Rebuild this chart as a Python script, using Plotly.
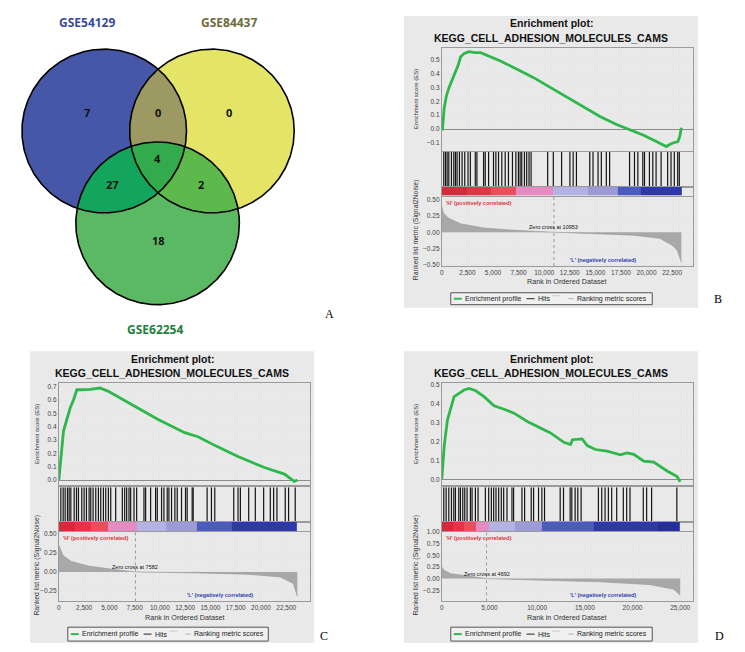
import numpy as np
import plotly.graph_objects as go

W, H = 745, 652
FONT = "Liberation Sans"

# ---------------- Venn data ----------------
venn_names = ["GSE54129", "GSE84437", "GSE62254"]
venn_region_keys = ["A", "AB", "B", "ABC", "AC", "BC", "C"]
venn_region_counts = [7, 0, 0, 4, 27, 2, 18]

# ---------------- GSEA data ----------------
gene_set_name = "KEGG_CELL_ADHESION_MOLECULES_CAMS"

b_es_rank = [0, 65, 230, 450, 710, 1030, 1360, 1600, 1840, 2200, 2650, 3200, 3790, 4760, 5730, 7350,
             8970, 10590, 12200, 13830, 15450, 17070, 18370, 19660, 20960, 21930, 22300, 22580, 23070,
             23250, 23400]
b_es_val = [0.0, 0.0, 0.15, 0.24, 0.30, 0.36, 0.42, 0.46, 0.52, 0.545, 0.557, 0.55, 0.55, 0.52, 0.49,
            0.43, 0.37, 0.30, 0.23, 0.16, 0.09, 0.033, -0.007, -0.043, -0.09, -0.126, -0.11, -0.10,
            -0.09, -0.05, 0.01]
b_hits = [190, 360, 520, 680, 940, 1170, 1330, 1490, 1720, 1980, 2240, 2560, 2790, 3270, 3430, 4080,
          4240, 4570, 5050, 5280, 5540, 5860, 6190, 6510, 6900, 7230, 7480, 7650, 7810, 8070, 8290,
          8520, 8720, 10340, 10890, 11700, 12510, 12830, 13150, 14450, 14770, 15260, 15580, 16070,
          16390, 18340, 18820, 19150, 19630, 19800, 20280, 20610, 20930, 21420, 22060, 22390, 22710,
          23040, 23200]
b_rm_rank = [0, 150, 620, 1840, 4110, 6700, 10953, 15450, 18690, 21290, 22580, 23000, 23400]
b_rm_val = [0.40, 0.30, 0.22, 0.13, 0.066, 0.035, 0.0, -0.02, -0.045, -0.095, -0.21, -0.28, -0.47]
b_band_edges = [0, 2400, 4800, 7200, 10890, 14300, 17220, 19460, 23400]
b_zero_cross = 10953

c_es_rank = [0, 150, 300, 460, 790, 1120, 1450, 1780, 2270, 3090, 4080, 4900, 7200, 9830, 12460,
             13780, 15420, 17720, 20350, 22320, 23300, 23600]
c_es_val = [0.0, 0.12, 0.256, 0.367, 0.454, 0.54, 0.60, 0.677, 0.677, 0.68, 0.69, 0.665, 0.566,
            0.454, 0.355, 0.325, 0.26, 0.176, 0.094, 0.045, -0.01, 0.0]
c_hits = [198, 428, 625, 856, 1020, 1185, 1514, 1744, 1941, 2270, 2501, 2731, 2994, 3159, 3389, 3652,
          3915, 4146, 4409, 4639, 4902, 5133, 5626, 6284, 6514, 6712, 6942, 7107, 7436, 7699, 8423,
          8587, 9081, 9574, 9739, 10166, 10397, 10726, 10890, 11153, 11482, 11713, 12140, 12535,
          12700, 13193, 13292, 14674, 15101, 15430, 17306, 17733, 17964, 18786, 19444, 20267, 20925,
          21254, 21583, 22405, 22734, 23392]
c_rm_rank = [0, 400, 1200, 2900, 5500, 7582, 13680, 18600, 21900, 23200, 23600]
c_rm_val = [0.35, 0.216, 0.138, 0.078, 0.03, 0.0, -0.013, -0.03, -0.065, -0.15, -0.32]
c_band_edges = [0, 1600, 3200, 4800, 7760, 10560, 13690, 17140, 23600]
c_zero_cross = 7582

d_es_rank = [0, 245, 590, 940, 1290, 1810, 2330, 2860, 3560, 4430, 5480, 6530, 7570, 8970, 10360,
             11400, 12800, 13500, 13700, 14720, 15250, 16120, 17340, 18730, 19430, 20130, 21180,
             22230, 23630, 24680, 25000]
d_es_val = [0.0, 0.175, 0.316, 0.377, 0.439, 0.456, 0.474, 0.482, 0.47, 0.439, 0.39, 0.372, 0.351,
            0.307, 0.272, 0.246, 0.196, 0.184, 0.21, 0.214, 0.179, 0.158, 0.149, 0.13, 0.14, 0.132,
            0.096, 0.091, 0.044, 0.014, -0.014]
d_hits = [209, 453, 732, 1011, 1255, 1430, 1778, 1952, 2197, 2406, 2650, 2999, 3173, 3522, 3801, 4568,
          4917, 5195, 5440, 5684, 5963, 6242, 6486, 6835, 7357, 7532, 8404, 8683, 9379, 9624, 10147,
          10496, 10775, 12414, 12763, 13460, 13634, 13983, 14262, 14610, 16424, 16773, 17121, 17470,
          17818, 18341, 19039, 19388, 19736, 21131, 21480, 22003, 24650]
d_rm_rank = [0, 245, 940, 2680, 4692, 9670, 16640, 21880, 24330, 25000]
d_rm_val = [0.25, 0.18, 0.107, 0.057, 0.0, -0.03, -0.07, -0.13, -0.23, -0.36]
d_band_edges = [0, 1170, 2340, 3520, 4920, 7700, 10500, 15900, 22700, 25000]
d_zero_cross = 4692

legend_labels = ["Enrichment profile", "Hits", "Ranking metric scores"]

# ---------------- styles ----------------
RED1, RED2, RED3 = "#D42A3E", "#E23447", "#EC4C5C"
PINK, LAV1, LAV2 = "#E58BC1", "#B3B2E2", "#9C9AD7"
BLUE, DBLUE, DDBLUE = "#4B5BBF", "#2E38A8", "#252E9C"
band_colors_bc = [RED1, RED2, RED3, PINK, LAV1, LAV2, BLUE, DBLUE]
band_colors_d = [RED1, RED2, RED3, PINK, LAV1, LAV2, BLUE, DBLUE, DDBLUE]
GREEN = "#2EB84C"


def X(px):
    return px / W


def Y(py):
    return 1 - py / H


fig = go.Figure()
layout = dict(width=W, height=H, margin=dict(l=0, r=0, t=0, b=0), paper_bgcolor="white",
              plot_bgcolor="white", showlegend=False, font=dict(family=FONT, color="#222"))
shapes = []
annotations = []
n_ax = [0]


def new_axes(xd, yd, xkw, ykw):
    n_ax[0] += 1
    i = n_ax[0]
    s = "" if i == 1 else str(i)
    layout["xaxis" + s] = dict(domain=[X(xd[0]), X(xd[1])], anchor="y" + s, **xkw)
    layout["yaxis" + s] = dict(domain=[Y(yd[1]), Y(yd[0])], anchor="x" + s, **ykw)
    return "x" + s, "y" + s


# ---------------- Venn ----------------
vx, vy = new_axes((0, 340), (0, 320),
                  dict(range=[0, 340], visible=False, fixedrange=True),
                  dict(range=[320, 0], visible=False, fixedrange=True))
circles = {"A": (102.5, 129, 82.5), "B": (210.5, 129, 82.5), "C": (156, 222, 82)}
fills = [(["A"], "#4657A7"), (["B"], "#E4E466"), (["C"], "#5CB963"),
         (["A", "B"], "#9C9A62"), (["A", "C"], "#14A55C"), (["B", "C"], "#5EB94D"),
         (["A", "B", "C"], "#33AB4D")]
t = np.linspace(0, 2 * np.pi, 1440, endpoint=False)


def inter_poly(keys):
    pts = []
    for k in keys:
        cx, cy, r = circles[k]
        xs = cx + r * np.cos(t)
        ys = cy + r * np.sin(t)
        m = np.ones_like(t, dtype=bool)
        for k2 in keys:
            if k2 == k:
                continue
            c2x, c2y, r2 = circles[k2]
            m &= (xs - c2x) ** 2 + (ys - c2y) ** 2 <= r2 ** 2 + 1e-6
        pts.append(np.c_[xs[m], ys[m]])
    P = np.vstack(pts)
    c = P.mean(axis=0)
    P = P[np.argsort(np.arctan2(P[:, 1] - c[1], P[:, 0] - c[0]))]
    return np.vstack([P, P[:1]])


for keys, col in fills:
    P = inter_poly(keys)
    fig.add_trace(go.Scatter(x=P[:, 0], y=P[:, 1], mode="lines", fill="toself", fillcolor=col,
                             line=dict(width=0, color=col), hoverinfo="skip", xaxis=vx, yaxis=vy))
for k in ["A", "B", "C"]:
    cx, cy, r = circles[k]
    tt = np.linspace(0, 2 * np.pi, 400)
    fig.add_trace(go.Scatter(x=cx + r * np.cos(tt), y=cy + r * np.sin(tt), mode="lines",
                             line=dict(color="black", width=1.6), hoverinfo="skip", xaxis=vx, yaxis=vy))

region_label_pos = {"A": (85, 110), "AB": (156, 110), "B": (228, 110), "ABC": (156, 157),
                    "AC": (111, 183), "BC": (200, 183), "C": (157, 239)}
for key, cnt in zip(venn_region_keys, venn_region_counts):
    px_, py_ = region_label_pos[key]
    annotations.append(dict(x=px_, y=py_, xref=vx, yref=vy, text=f"<b>{cnt}</b>", showarrow=False,
                            font=dict(family="Open Sans", size=11, color="#111")))
venn_name_pos = [(85, 20, "#3A4B9B"), (228, 20, "#6E6B3C"), (153, 329, "#1F7F3F")]
for name, (px_, py_, col) in zip(venn_names, venn_name_pos):
    annotations.append(dict(x=X(px_), y=Y(py_), xref="paper", yref="paper", text=f"<b>{name}</b>",
                            showarrow=False, font=dict(family="Open Sans", size=12, color=col)))
annotations.append(dict(x=X(328), y=Y(313), xref="paper", yref="paper", text="A", showarrow=False,
                        font=dict(family="Liberation Serif", size=12, color="black")))

# ---------------- GSEA panels ----------------
TICKF = dict(family=FONT, size=6.5, color="#444")
BORDER = dict(showline=True, linecolor="#9A9A9A", linewidth=1, mirror=True)


def gsea_panel(g, es_rank, es_val, hits, rm_rank, rm_val, band_edges, band_colors, zc):
    bx0, by0, bx1, by1 = g["box"]
    shapes.append(dict(type="rect", xref="paper", yref="paper", x0=X(bx0), x1=X(bx1), y0=Y(by1),
                       y1=Y(by0), fillcolor="#E9E9E9", line=dict(width=0), layer="below"))
    cx = (bx0 + bx1) / 2
    annotations.append(dict(x=X(cx), y=Y(g["title_y"][0]), xref="paper", yref="paper",
                            text="<b>Enrichment plot:</b>", showarrow=False,
                            font=dict(family=FONT, size=10.5, color="#111")))
    annotations.append(dict(x=X(cx), y=Y(g["title_y"][1]), xref="paper", yref="paper",
                            text=f"<b>{gene_set_name}</b>", showarrow=False,
                            font=dict(family=FONT, size=10.5, color="#111")))
    xr = [0, g["x_max"]]
    # ES
    ex, ey = new_axes(g["px"], g["es"],
                      dict(range=xr, dtick=g["dtick"], tick0=0, showticklabels=False, showgrid=True,
                           gridcolor="#E6E6E6", zeroline=False, ticks="", **BORDER),
                      dict(range=g["es_range"], dtick=0.1, tick0=0, tickformat=".1f", tickfont=TICKF,
                           showgrid=True, gridcolor="#E6E6E6", zeroline=True, zerolinecolor="#8C8C8C",
                           zerolinewidth=1, ticks="", **BORDER))
    fig.add_trace(go.Scatter(x=es_rank, y=es_val, mode="lines", line=dict(color=GREEN, width=2.8),
                             hoverinfo="skip", xaxis=ex, yaxis=ey))
    # hits
    hx, hy = new_axes(g["px"], g["hits"],
                      dict(range=xr, matches=ex, showticklabels=False, showgrid=False, zeroline=False,
                           ticks="", **BORDER),
                      dict(range=[0, 1], showticklabels=False, showgrid=False, zeroline=False, ticks="",
                           **BORDER))
    xs, ys = [], []
    for h in hits:
        xs += [h, h, None]
        ys += [0, 1, None]
    fig.add_trace(go.Scatter(x=xs, y=ys, mode="lines", line=dict(color="#151515", width=1.2),
                             hoverinfo="skip", xaxis=hx, yaxis=hy))
    # band
    bxa, bya = new_axes(g["px"], g["band"],
                        dict(range=xr, matches=ex, showticklabels=False, showgrid=False, zeroline=False,
                             ticks="", **BORDER),
                        dict(range=[0, 1], showticklabels=False, showgrid=False, zeroline=False,
                             ticks="", **BORDER))
    n = len(band_colors)
    cs = []
    for i, c in enumerate(band_colors):
        cs += [[i / n, c], [(i + 1) / n, c]]
    fig.add_trace(go.Heatmap(x=band_edges, y=[0, 1], z=[list(range(n))], colorscale=cs, zmin=-0.5,
                             zmax=n - 0.5, showscale=False, hoverinfo="skip", xaxis=bxa, yaxis=bya))
    # ranked metric
    rx, ry = new_axes(g["px"], g["rk"],
                      dict(range=xr, matches=ex, dtick=g["dtick"], tick0=0, tickformat=",",
                           tickfont=TICKF, showgrid=True, gridcolor="#E6E6E6", zeroline=False, ticks="",
                           **BORDER),
                      dict(range=g["rk_range"], dtick=0.25, tick0=0, tickformat=".2f", tickfont=TICKF,
                           showgrid=True, gridcolor="#E6E6E6", zeroline=False, ticks="", **BORDER))
    fig.add_trace(go.Scatter(x=rm_rank, y=rm_val, mode="lines", fill="tozeroy", fillcolor="#A8A8A8",
                             line=dict(color="#999999", width=0.6), hoverinfo="skip", xaxis=rx, yaxis=ry))
    shapes.append(dict(type="line", xref=rx, yref=ry + " domain", x0=zc, x1=zc, y0=0, y1=1,
                       line=dict(color="#9A9A9A", width=1, dash="dot")))
    annotations.append(dict(x=0.008, y=0.985, xref=rx + " domain", yref=ry + " domain",
                            xanchor="left", yanchor="top", showarrow=False,
                            text="<b>'H' (positively correlated)</b>",
                            font=dict(family=FONT, size=5.5, color="#E0303C")))
    annotations.append(dict(x=0.64, y=0.086, xref=rx + " domain", yref=ry + " domain",
                            showarrow=False, text="<b>'L' (negatively correlated)</b>",
                            font=dict(family=FONT, size=5.5, color="#3040B0")))
    annotations.append(dict(x=zc, y=0, xref=rx, yref=ry, yanchor="bottom", showarrow=False,
                            text=f"Zero cross at {zc}", font=dict(family=FONT, size=5.5, color="#111")))
    # axis titles
    pcx = (g["px"][0] + g["px"][1]) / 2
    annotations.append(dict(x=X(pcx), y=Y(g["xtitle_y"]), xref="paper", yref="paper", showarrow=False,
                            text="Rank in Ordered Dataset", font=dict(family=FONT, size=7.2, color="#333")))
    annotations.append(dict(x=X(g["ytitle_x"]), y=Y((g["es"][0] + g["es"][1]) / 2), xref="paper",
                            yref="paper", showarrow=False, textangle=-90, text="Enrichment score (ES)",
                            font=dict(family=FONT, size=6, color="#333")))
    annotations.append(dict(x=X(g["ytitle_x"]), y=Y((g["rk"][0] + g["rk"][1]) / 2 - 1), xref="paper",
                            yref="paper", showarrow=False, textangle=-90,
                            text="Ranked list metric (Signal2Noise)",
                            font=dict(family=FONT, size=6.8, color="#333")))
    # legend box
    lx0, ly0, lx1, ly1 = g["legend"]
    ym = (ly0 + ly1) / 2
    shapes.append(dict(type="rect", xref="paper", yref="paper", x0=X(lx0), x1=X(lx1), y0=Y(ly1),
                       y1=Y(ly0), fillcolor="#F0F0F0", line=dict(color="#555", width=1)))
    for (a, b, yy, col, wdt) in [(3, 11, ym, GREEN, 2), (76, 84, ym, "#222", 1),
                                 (102, 110, ym - 3, "#C8C8C8", 1), (118, 123, ym, "#AAAAAA", 1)]:
        shapes.append(dict(type="line", xref="paper", yref="paper", x0=X(lx0 + a), x1=X(lx0 + b),
                           y0=Y(yy), y1=Y(yy), line=dict(color=col, width=wdt)))
    for off, txt in zip([12, 85, 125], legend_labels):
        annotations.append(dict(x=X(lx0 + off), y=Y(ym), xref="paper", yref="paper", xanchor="left",
                                showarrow=False, text=txt, font=dict(family=FONT, size=7, color="#222")))
    lab, lxp, lyp = g["label"]
    annotations.append(dict(x=X(lxp), y=Y(lyp), xref="paper", yref="paper", text=lab, showarrow=False,
                            font=dict(family="Liberation Serif", size=12, color="black")))


gB = dict(box=(403, 13, 698, 307), title_y=(20, 35), px=(441, 693), es=(45, 149), hits=(150, 185),
          band=(185, 194), rk=(195, 265), xtitle_y=281, ytitle_x=415, legend=(450, 292, 652, 304),
          label=("B", 718, 298), es_range=[-0.157, 0.586], rk_range=[-0.523, 0.554], x_max=24550,
          dtick=2500)
gC = dict(box=(28, 351, 313, 645), title_y=(359, 373), px=(57, 309), es=(383, 486), hits=(488, 523),
          band=(523, 532), rk=(533, 603), xtitle_y=619, ytitle_x=35, legend=(66, 629, 267, 643),
          label=("C", 323, 638), es_range=[-0.039, 0.727], rk_range=[-0.384, 0.521], x_max=24870,
          dtick=2500)
gD = dict(box=(403, 351, 698, 645), title_y=(359, 373), px=(441, 693), es=(383, 486), hits=(488, 523),
          band=(523, 532), rk=(533, 603), xtitle_y=619, ytitle_x=415, legend=(450, 629, 652, 643),
          label=("D", 719, 638), es_range=[-0.032, 0.511], rk_range=[-0.49, 1.005], x_max=26360,
          dtick=5000)

gsea_panel(gB, b_es_rank, b_es_val, b_hits, b_rm_rank, b_rm_val, b_band_edges, band_colors_bc, b_zero_cross)
gsea_panel(gC, c_es_rank, c_es_val, c_hits, c_rm_rank, c_rm_val, c_band_edges, band_colors_bc, c_zero_cross)
gsea_panel(gD, d_es_rank, d_es_val, d_hits, d_rm_rank, d_rm_val, d_band_edges, band_colors_d, d_zero_cross)

for a in annotations:
    a.setdefault("xanchor", "center")
    a.setdefault("yanchor", "middle")

layout["shapes"] = shapes
layout["annotations"] = annotations
fig.update_layout(**layout)
fig.write_html("out.html", config={"displayModeBar": False},
               post_script="document.body.style.margin='0';document.body.style.overflow='hidden';")
